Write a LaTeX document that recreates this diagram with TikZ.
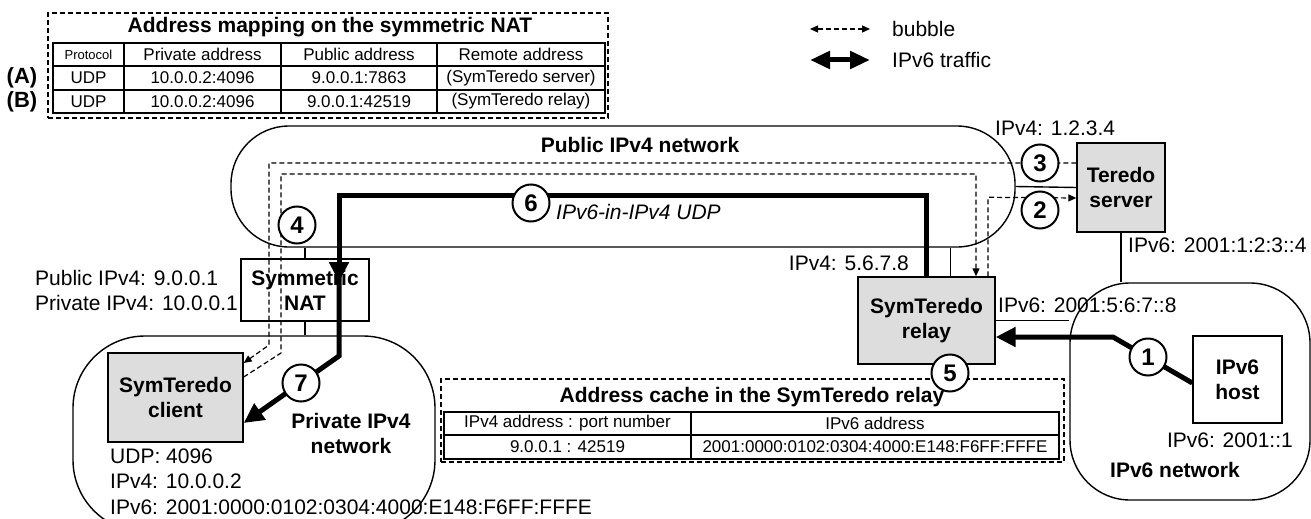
\documentclass[tikz,border=0pt]{standalone}
\usepackage{fontspec}
\setmainfont{Liberation Sans}
\usepackage{tikz}
\usetikzlibrary{arrows.meta}

\definecolor{boxgrey}{RGB}{221,221,221}
\newcommand{\bigtxt}{\fontsize{21}{25}\selectfont}
\newcommand{\tabtxt}{\fontsize{17}{20}\selectfont}

\begin{document}
\begin{tikzpicture}[x=1pt,y=-1pt,
    net/.style={draw,line width=1.4pt,rounded corners=#1,inner sep=0pt},
    box/.style={draw,line width=1.4pt,align=center,inner sep=0pt,font=\bigtxt\bfseries},
    frame/.style={draw,line width=1.2pt,dash pattern=on 5pt off 3pt,inner sep=0pt},
    num/.style={circle,draw,line width=2pt,fill=white,minimum size=37pt,inner sep=0pt,
      font=\fontsize{24}{24}\selectfont\bfseries},
    lbl/.style={inner sep=0pt,font=\bigtxt},
    cell/.style={inner sep=0pt,font=\tabtxt},
    link/.style={line width=1.4pt},
    bubble/.style={line width=1.2pt,dash pattern=on 5pt off 3pt},
    v6/.style={line width=5pt},
    btip/.style={-{Triangle[length=8pt,width=7pt]}},
    vtip/.style={-{Triangle[length=20pt,width=19pt]}}]
    \useasboundingbox (0,0) rectangle (1311,519);

    \node[net=58pt,minimum width=784pt,minimum height=121pt] (pubnet) at (623,186.5) {};
    \node[net=72pt,minimum width=362pt,minimum height=196pt] (privnet) at (254,434) {};
    \node[net=60pt,minimum width=240pt,minimum height=217pt] (v6net) at (1190,391.5) {};

    \node[box,fill=boxgrey,minimum width=88pt,minimum height=89pt] (server) at (1121,187.5) {Teredo\\server};
    \node[box,fill=boxgrey,minimum width=137pt,minimum height=87pt] (relay) at (926.5,320.5) {SymTeredo\\relay};
    \node[box,fill=boxgrey,minimum width=135pt,minimum height=89pt] (client) at (175.5,397.5) {SymTeredo\\client};
    \node[box,minimum width=128pt,minimum height=62pt] (nat) at (305,290) {Symmetric\\NAT};
    \node[box,minimum width=89pt,minimum height=87pt] (host) at (1237.5,379.5) {IPv6\\host};

    \draw[link] (nat.north) -- (nat |- pubnet.south);
    \draw[link] (nat.south) -- (nat |- privnet.north);
    \draw[link] ([xshift=24pt]relay.north) -- ([xshift=24pt]relay.north |- pubnet.south);
    \draw[link] (pubnet.east) -- (server.west);
    \draw[link] (server.south) -- (server.south |- v6net.north);
    \draw[link] (relay.east) -- (relay.east -| v6net.west);

    % address mapping table
    \node[frame,minimum width=560pt,minimum height=105pt] (mapbox) at (328,65.5) {};
    \node[lbl,font=\bigtxt\bfseries] (maptitle) at (330,27) {Address mapping on the symmetric NAT};
    \draw[link] (53,43) rectangle (605,113);
    \foreach \y in {66,90} \draw[link] (53,\y) -- (605,\y);
    \foreach \x in {124,281,437} \draw[link] (\x,43) -- (\x,113);
    \node[cell,font=\fontsize{13}{15}\selectfont] (map-0-1) at (88.5,54.5) {Protocol};
    \node[cell] (map-0-2) at (202.5,54.5) {Private address};
    \node[cell] (map-0-3) at (359,54.5) {Public address};
    \node[cell] (map-0-4) at (521,54.5) {Remote address};
    \foreach \r/\y/\pub/\rem in {1/78/9.0.0.1:7863/SymTeredo server,2/101.5/9.0.0.1:42519/SymTeredo relay} {
      \node[cell] (map-\r-1) at (88.5,\y) {UDP};
      \node[cell] (map-\r-2) at (202.5,\y) {10.0.0.2:4096};
      \node[cell] (map-\r-3) at (359,\y) {\pub};
      \node[cell] (map-\r-4) at (521,\y) {(\rem)};
    }
    \node[lbl,font=\fontsize{22}{22}\selectfont\bfseries] (rowA) at (22,78) {(A)};
    \node[lbl,font=\fontsize{22}{22}\selectfont\bfseries] (rowB) at (22,101.5) {(B)};

    % address cache table
    \node[frame,minimum width=623pt,minimum height=83pt] (cachebox) at (752.5,420.5) {};
    \node[lbl,font=\bigtxt\bfseries] (cachetitle) at (752,397) {Address cache in the SymTeredo relay};
    \draw[link] (444,412) rectangle (1059,459);
    \draw[link] (444,435) -- (1059,435);
    \draw[link] (691,412) -- (691,459);
    \node[cell] (cache-0-1) at (567.5,423.5) {IPv4 address : port number};
    \node[cell] (cache-0-2) at (875,423.5) {IPv6 address};
    \node[cell] (cache-1-1) at (567.5,447) {9.0.0.1 : 42519};
    \node[cell] (cache-1-2) at (875,447) {2001:0000:0102:0304:4000:E148:F6FF:FFFE};

    % bubbles
    \draw[bubble,btip] (server.west |- 0,163) -- (269,163) -- (269,345) -- (client.east |- 0,363);
    \draw[bubble,btip] (client.east |- 0,377) -- (281,353) -- (281,174) -- (976,174)
      -- ([xshift=49.5pt]relay.north);
    \draw[bubble,btip] ([xshift=61.5pt]relay.north) -- ++(0,-79) -- (server.west |- 0,198);

    % IPv6 traffic
    \draw[v6,vtip] (host.west |- 0,383) -- (1113,337) -- (relay.east |- 0,337);
    \draw[v6,vtip] (relay.north) -- (926.5,195) -- (339,195) -- (339,282);
    \draw[v6,vtip] (339,272) -- (339,356) -- (client.east |- 0,423);

    \node[num] (n1) at (1148,357) {1};
    \node[num] (n2) at (1040,210) {2};
    \node[num] (n3) at (1040,163) {3};
    \node[num] (n4) at (297,225) {4};
    \node[num] (n5) at (950,373) {5};
    \node[num] (n6) at (531,203) {6};
    \node[num] (n7) at (301,383) {7};

    \node[lbl,font=\bigtxt\bfseries] (pubname) at (640,145) {Public IPv4 network};
    \node[lbl,font=\bigtxt\bfseries,align=center] (privname) at (351,433) {Private IPv4\\network};
    \node[lbl,font=\bigtxt\bfseries,anchor=west] (v6name) at (1110,470) {IPv6 network};
    \node[lbl,font=\bigtxt\itshape,anchor=west] (tunnel) at (556,212) {IPv6-in-IPv4 UDP};

    \node[lbl,anchor=west] (srv4) at (995,128) {IPv4: 1.2.3.4};
    \node[lbl,anchor=west] (srv6) at (1128,245) {IPv6: 2001:1:2:3::4};
    \node[lbl,anchor=east] (rly4) at (909,263) {IPv4: 5.6.7.8};
    \node[lbl,anchor=west] (rly6) at (998,305) {IPv6: 2001:5:6:7::8};
    \node[lbl,anchor=east] (hst6) at (1293,440) {IPv6: 2001::1};
    \node[lbl,anchor=west,align=left] (natip) at (35,290.5) {Public IPv4: 9.0.0.1\\Private IPv4: 10.0.0.1};
    \node[lbl,anchor=west,align=left,font=\fontsize{21}{25.5}\selectfont] (cliip) at (110,481.5)
      {UDP: 4096\\IPv4: 10.0.0.2\\IPv6: 2001:0000:0102:0304:4000:E148:F6FF:FFFE};

    % legend
    \coordinate (keyA) at (810,29);
    \coordinate (keyB) at (870,29);
    \coordinate (keyC) at (810,60);
    \coordinate (keyD) at (870,60);
    \draw[bubble,{Triangle[length=8pt,width=7pt]}-{Triangle[length=8pt,width=7pt]}] (keyA) -- (keyB);
    \draw[v6,{Triangle[length=20pt,width=17pt]}-{Triangle[length=20pt,width=17pt]}] (keyC) -- (keyD);
    \node[lbl,anchor=west] (keybubble) at (892,29) {bubble};
    \node[lbl,anchor=west] (keytraffic) at (892,60) {IPv6 traffic};
\end{tikzpicture}
\end{document}
